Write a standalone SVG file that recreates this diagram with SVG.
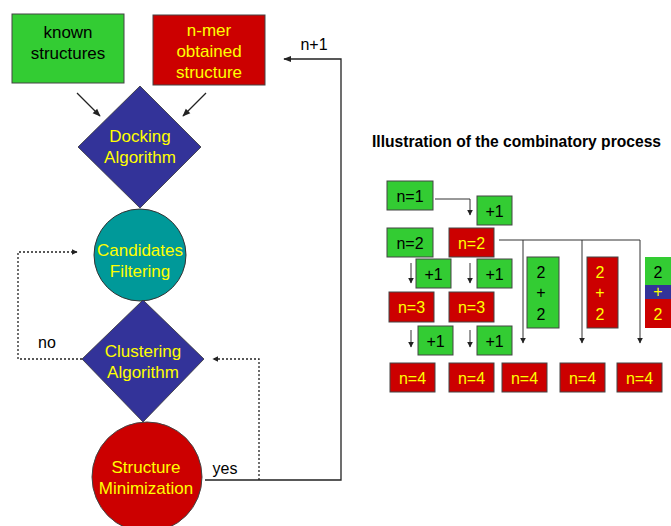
<svg xmlns="http://www.w3.org/2000/svg" width="671" height="526" viewBox="0 0 671 526">
<style>
.g{fill:#33cc33;stroke:#444;stroke-width:1}
.r{fill:#cc0000;stroke:#444;stroke-width:1}
.b{fill:#333399;stroke:#333;stroke-width:0.8}
.t{fill:#009999;stroke:#333;stroke-width:1}
.L{font-family:"Liberation Sans",Arial,sans-serif;font-size:17px;text-anchor:middle}
.S{font-family:"Liberation Sans",Arial,sans-serif;font-size:16px;text-anchor:middle}
.k{fill:#000}
.y{fill:#ffff00}
.c{fill:none;stroke:#222;stroke-width:1.3}
.d{fill:none;stroke:#222;stroke-width:1.3;stroke-dasharray:2 2}
.thin{fill:none;stroke:#333;stroke-width:1}
</style>
<defs>
<marker id="ah" viewBox="0 0 10 10" refX="9" refY="5" markerWidth="6" markerHeight="6" orient="auto" markerUnits="userSpaceOnUse"><path d="M0,0 L10,5 L0,10 z" fill="#222"/></marker>
<marker id="ah2" viewBox="0 0 10 10" refX="9" refY="5" markerWidth="8" markerHeight="8" orient="auto" markerUnits="userSpaceOnUse"><path d="M0,1 L10,5 L0,9 z" fill="#222"/></marker>
</defs>
<rect width="671" height="526" fill="#fff"/>

<g id="known">
<rect class="g" x="12" y="14" width="112" height="69"/>
<text class="L k" x="68" y="38">known</text>
<text class="L k" x="68" y="59">structures</text>
</g>
<g id="nmer">
<rect class="r" x="153" y="15" width="112" height="70"/>
<text class="L y" x="209" y="36">n-mer</text>
<text class="L y" x="209" y="57">obtained</text>
<text class="L y" x="209" y="78">structure</text>
</g>
<g id="docking">
<polygon class="b" points="140,86 201,147 140,208 78,147"/>
<text class="L y" x="140" y="142">Docking</text>
<text class="L y" x="140" y="163">Algorithm</text>
</g>
<g id="filtering">
<circle class="t" cx="140" cy="255" r="46"/>
<text class="L y" x="140" y="256">Candidates</text>
<text class="L y" x="140" y="277">Filtering</text>
</g>
<g id="clustering">
<polygon class="b" points="143,300 204,359 143,422 82,359"/>
<text class="L y" x="143" y="357">Clustering</text>
<text class="L y" x="143" y="378">Algorithm</text>
</g>
<g id="minimization">
<circle class="r" cx="147" cy="477" r="55"/>
<text class="L y" x="146" y="473">Structure</text>
<text class="L y" x="146" y="494">Minimization</text>
</g>

<g id="connectors">
<line class="c" x1="77" y1="93" x2="100" y2="116" marker-end="url(#ah2)"/>
<line class="c" x1="206" y1="93" x2="183" y2="116" marker-end="url(#ah2)"/>
<polyline class="c" points="205,480 341,480 341,59 284,59" marker-end="url(#ah2)"/>
<polyline class="d" points="259,480 259,359 213,359" marker-end="url(#ah)"/>
<polyline class="d" points="82,359 18,359 18,252 77,252" marker-end="url(#ah)"/>
</g>
<text class="S k" x="314" y="50">n+1</text>
<text class="S k" x="225" y="474">yes</text>
<text class="S k" x="47" y="348">no</text>

<text x="372" y="147" font-family="'Liberation Sans',Arial,sans-serif" font-size="16" font-weight="bold" textLength="289" lengthAdjust="spacingAndGlyphs">Illustration of the combinatory process</text>

<g id="n1"><rect class="g" x="387" y="181" width="46" height="29"/><text class="S k" x="410" y="202">n=1</text></g>
<g id="p1a"><rect class="g" x="477" y="196" width="35" height="29"/><text class="S k" x="494.5" y="217">+1</text></g>
<g id="n2g"><rect class="g" x="387" y="228" width="46" height="29"/><text class="S k" x="410" y="249">n=2</text></g>
<g id="n2r"><rect class="r" x="449" y="228" width="45" height="29"/><text class="S y" x="471.5" y="249">n=2</text></g>
<g id="p1b"><rect class="g" x="416" y="259" width="35" height="29"/><text class="S k" x="433.5" y="280">+1</text></g>
<g id="p1c"><rect class="g" x="477" y="259" width="35" height="29"/><text class="S k" x="494.5" y="280">+1</text></g>
<g id="tg"><rect class="g" x="527" y="257" width="32" height="71"/><text class="S k" x="541" y="278">2</text><text class="S k" x="541" y="298">+</text><text class="S k" x="541" y="320">2</text></g>
<g id="tr"><rect class="r" x="587" y="257" width="31" height="71"/><text class="S y" x="600" y="278">2</text><text class="S y" x="600" y="298">+</text><text class="S y" x="600" y="320">2</text></g>
<g id="ts"><rect x="645" y="257" width="30" height="28" fill="#33cc33"/><rect x="645" y="285" width="30" height="14" fill="#333399"/><rect x="645" y="299" width="30" height="29" fill="#cc0000"/><text class="S k" x="658" y="278">2</text><text class="S y" x="658" y="297" font-size="13">+</text><text class="S y" x="658" y="320">2</text></g>
<g id="n3a"><rect class="r" x="389" y="292" width="45" height="30"/><text class="S y" x="411.5" y="313">n=3</text></g>
<g id="n3b"><rect class="r" x="449" y="292" width="45" height="30"/><text class="S y" x="471.5" y="313">n=3</text></g>
<g id="p1d"><rect class="g" x="418" y="326" width="35" height="29"/><text class="S k" x="435.5" y="347">+1</text></g>
<g id="p1e"><rect class="g" x="477" y="326" width="35" height="29"/><text class="S k" x="494.5" y="347">+1</text></g>
<g id="n4a"><rect class="r" x="390" y="363" width="45" height="29"/><text class="S y" x="412.5" y="384">n=4</text></g>
<g id="n4b"><rect class="r" x="449" y="363" width="45" height="29"/><text class="S y" x="471.5" y="384">n=4</text></g>
<g id="n4c"><rect class="r" x="502" y="363" width="45" height="29"/><text class="S y" x="524.5" y="384">n=4</text></g>
<g id="n4d"><rect class="r" x="560" y="363" width="45" height="29"/><text class="S y" x="582.5" y="384">n=4</text></g>
<g id="n4e"><rect class="r" x="617" y="363" width="45" height="29"/><text class="S y" x="639.5" y="384">n=4</text></g>

<g id="connectors-right">
<polyline class="thin" points="435,199 470,199 470,215" marker-end="url(#ah)"/>
<polyline class="thin" points="499,240 640,240"/>
<line class="thin" x1="523" y1="240" x2="523" y2="343" marker-end="url(#ah)"/>
<line class="thin" x1="582" y1="240" x2="582" y2="343" marker-end="url(#ah)"/>
<line class="thin" x1="640" y1="240" x2="640" y2="343" marker-end="url(#ah)"/>
<line class="thin" x1="411" y1="263" x2="411" y2="283" marker-end="url(#ah)"/>
<line class="thin" x1="470" y1="263" x2="470" y2="283" marker-end="url(#ah)"/>
<line class="thin" x1="411" y1="330" x2="411" y2="347" marker-end="url(#ah)"/>
<line class="thin" x1="470" y1="330" x2="470" y2="347" marker-end="url(#ah)"/>
</g>
</svg>
